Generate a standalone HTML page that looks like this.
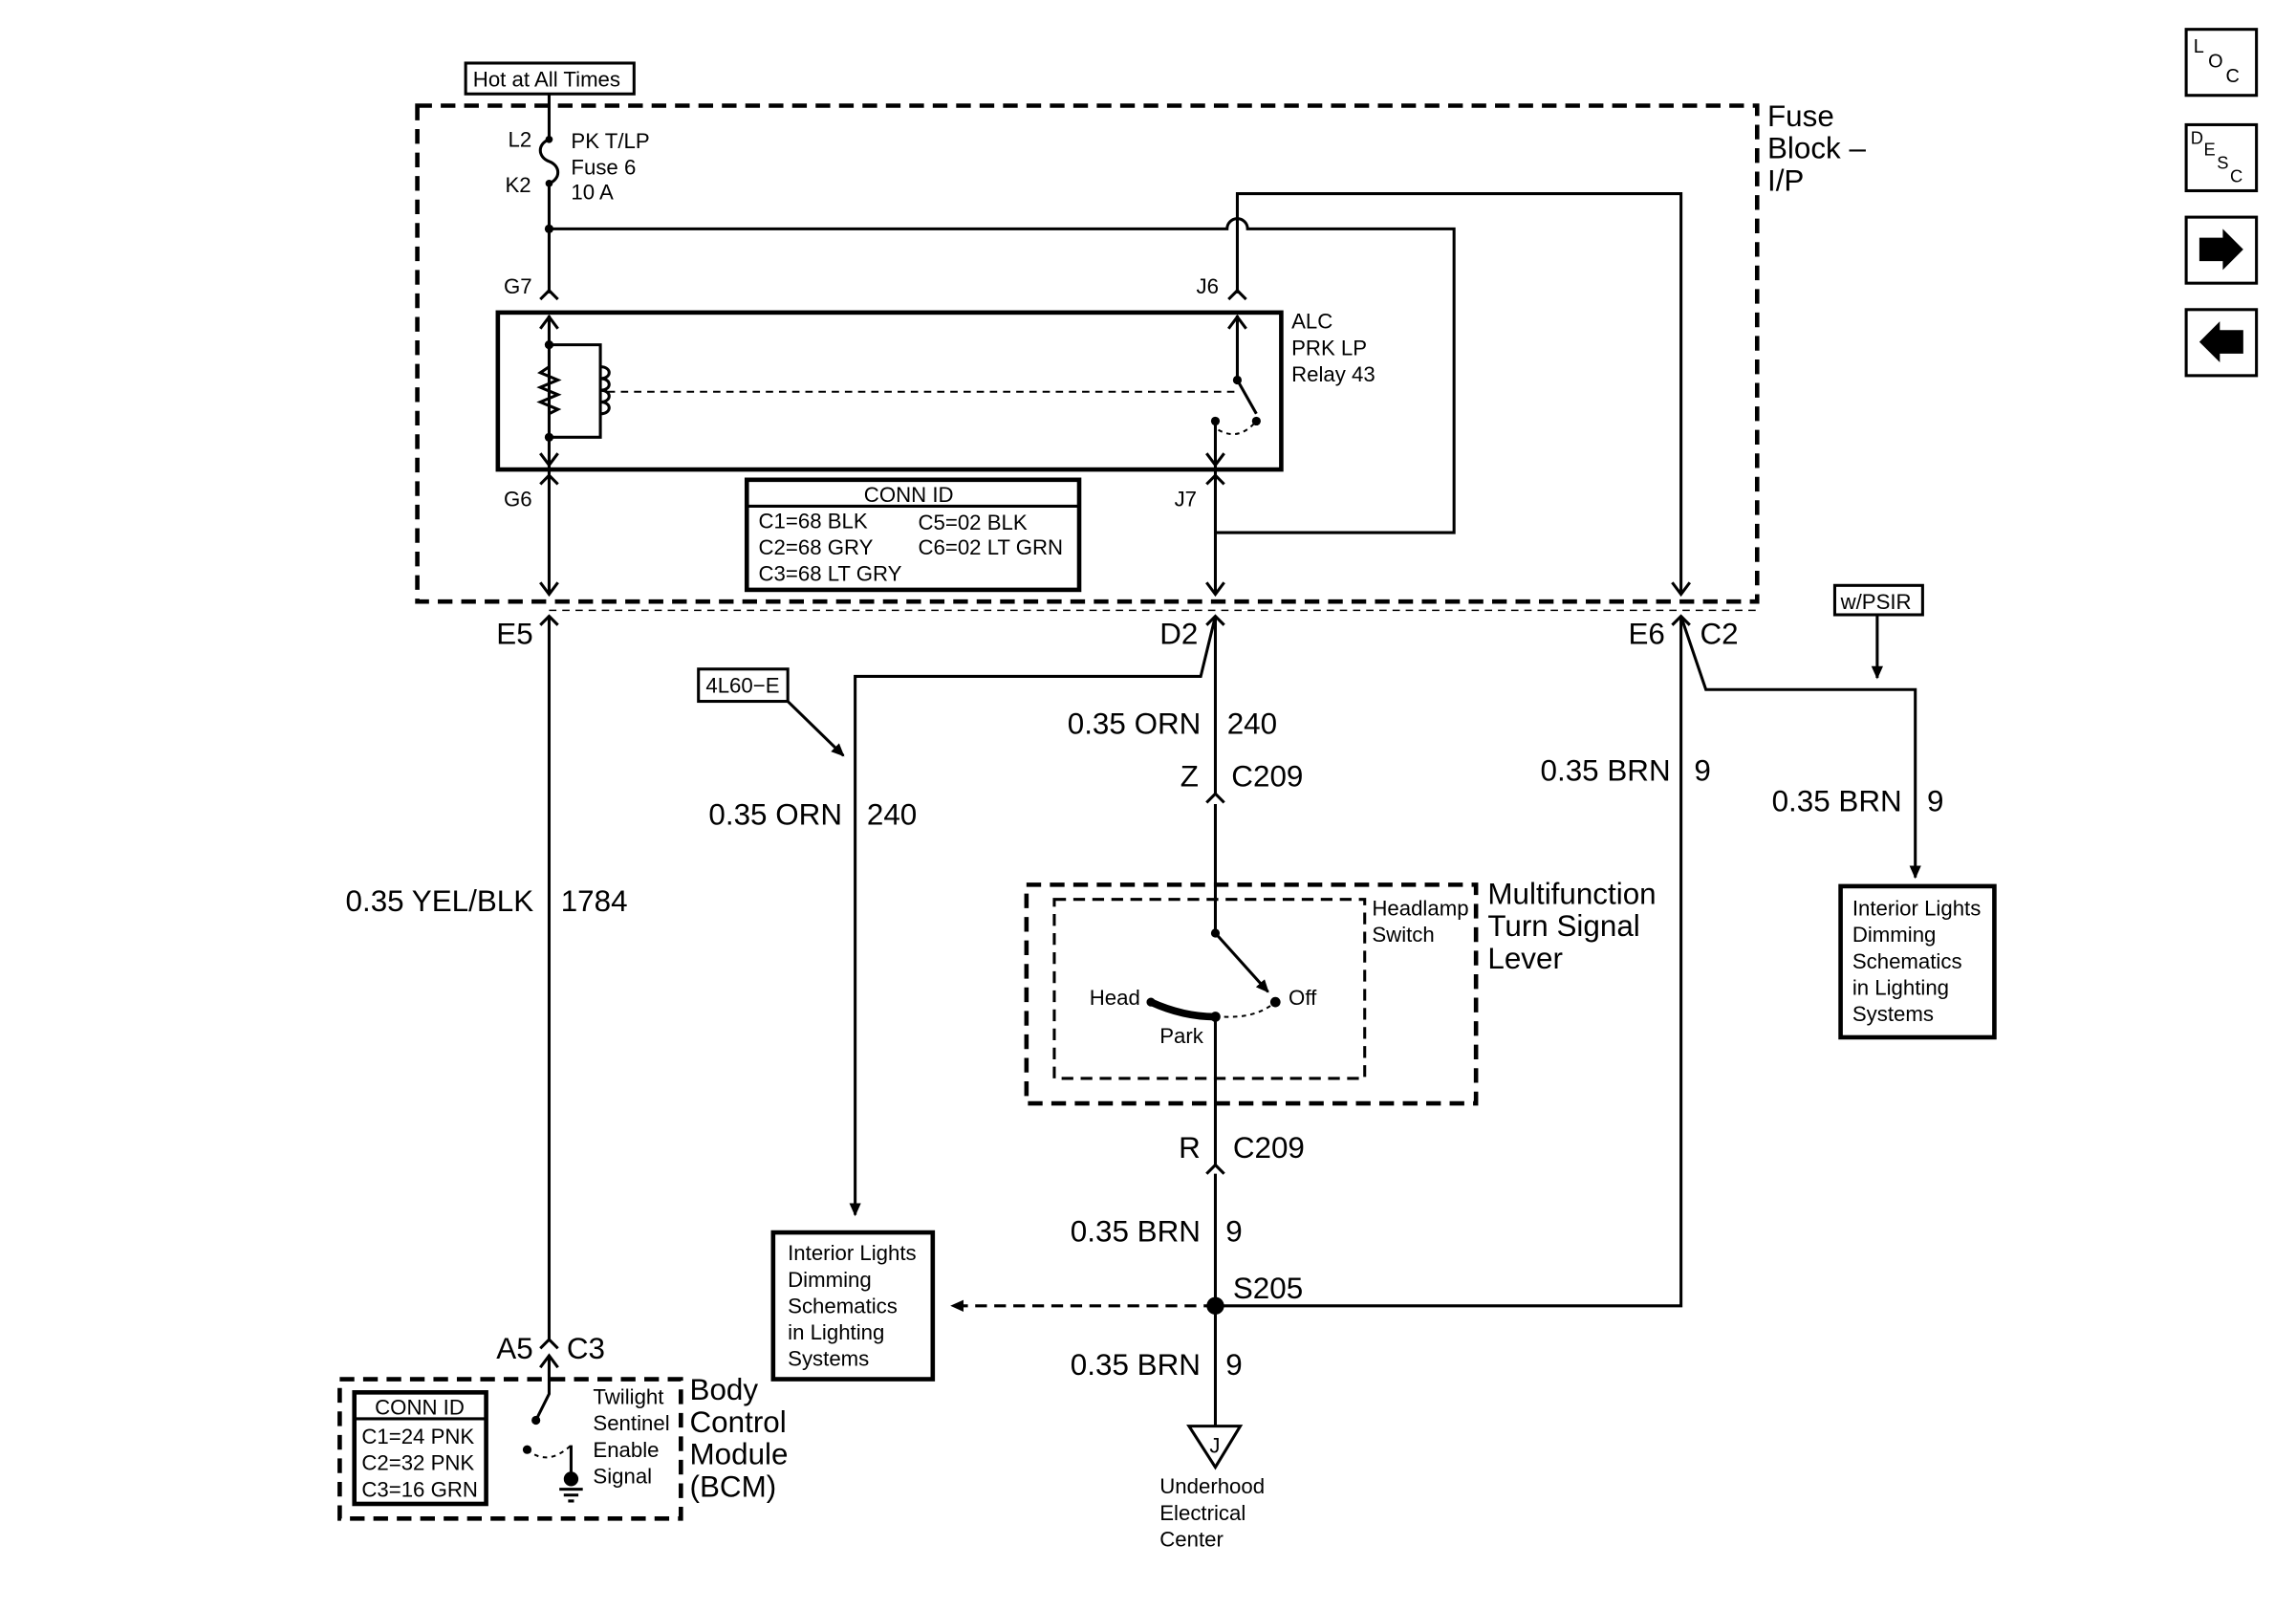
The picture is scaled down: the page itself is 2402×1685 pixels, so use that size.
<!DOCTYPE html>
<html><head><meta charset="utf-8"><style>
html,body{margin:0;padding:0;background:#fff}
svg{display:block}
text{font-family:"Liberation Sans",Arial,sans-serif;fill:#000}
.s{font-size:14.5px}.m{font-size:20.5px}.l{font-size:20.5px}
</style></head><body>
<svg width="2402" height="1685" viewBox="0 0 1568 1098" preserveAspectRatio="none" xmlns="http://www.w3.org/2000/svg">
<defs>
<marker id="ar" markerWidth="10" markerHeight="10" refX="8" refY="5" orient="auto" markerUnits="userSpaceOnUse"><path d="M0,1 L9,5 L0,9 z" fill="#000"/></marker>
</defs>
<g fill="none" stroke="#000" stroke-width="2">
<rect x="318" y="43" width="115" height="21"/>
<rect x="285" y="72" width="915" height="338" stroke-width="3" stroke-dasharray="10,6"/>
<path d="M375,64 V95 M375,125 V200"/>
<path d="M375,95 c-8,3 -8,12 0,15 c8,3 8,12 0,15"/>
<path d="M375,156 H838 a7,7 0 0 1 14,0 H993 V363 H830"/>
<path d="M845,200 V132 H1148 V405" />
<path d="M369,204 l6,-6 l6,6 M839,204 l6,-6 l6,6 M369,330 l6,-6 l6,6 M824,330 l6,-6 l6,6 M369,426 l6,-6 l6,6 M824,426 l6,-6 l6,6 M1142,426 l6,-6 l6,6 M824,547 l6,-6 l6,6 M824,800 l6,-6 l6,6 M369,919 l6,-6 l6,6"/>
<rect x="340" y="213" width="535" height="107" stroke-width="3"/>
<path d="M375,215 V320 M375,235 H410 V298 H375"/>
<path d="M375,250 l-6,4 l12,5 l-12,5 l12,5 l-12,5 l12,5 l-6,3" />
<path d="M410,250 c8,0 8,8 0,8 c8,0 8,8 0,8 c8,0 8,8 0,8 c8,0 8,8 0,8" />
<path d="M415,267 H843" stroke-dasharray="5,4" stroke-width="1.3"/>
<path d="M845,215 V259 L858,282"/>
<path d="M830,287 V320"/>
<path d="M832,293 q14,8 26,-6" stroke-dasharray="3,3" stroke-width="1.3"/>
<path d="M369,224 l6,-8 l6,8 M369,309 l6,8 l6,-8 M839,224 l6,-8 l6,8 M824,309 l6,8 l6,-8"/>
<path d="M375,320 V405 M830,320 V405"/>
<path d="M369,397 l6,8 l6,-8 M824,397 l6,8 l6,-8 M1142,397 l6,8 l6,-8"/>
<rect x="510" y="327" width="227" height="75" stroke-width="3"/>
<path d="M510,345 H737"/>
<path d="M375,416 H1200" stroke-dasharray="5,4" stroke-width="1"/>
<path d="M375,420 V913"/>
<path d="M830,420 V541 M830,420 L820,461 H584 V828" marker-end="url(#ar)"/>
<rect x="477" y="456" width="61" height="22"/>
<path d="M538,478 L576,515" marker-end="url(#ar)"/>
<rect x="528" y="840" width="109" height="100" stroke-width="3"/>
<path d="M830,548 V636"/>
<rect x="701" y="603" width="307" height="149" stroke-width="3" stroke-dasharray="10,6"/>
<rect x="720" y="613" width="212" height="122" stroke-width="2" stroke-dasharray="8,5"/>
<path d="M830,636 L866,676" marker-end="url(#ar)"/>
<path d="M786,683 Q808,693 830,693" stroke-width="5"/>
<path d="M836,693 Q858,694 871,683" stroke-dasharray="3,3" stroke-width="1.3"/>
<path d="M830,693 V794 M830,800 V972"/>
<path d="M830,890 H1148 V420"/>
<path d="M830,890 H650" stroke-dasharray="8,5" marker-end="url(#ar)"/>
<path d="M812,972 H847 L830,1000 Z"/>
<path d="M1148,420 L1165,470 H1308 V598" marker-end="url(#ar)"/>
<rect x="1253" y="399" width="60" height="20"/>
<path d="M1282,419 V462" marker-end="url(#ar)"/>
<rect x="1257" y="604" width="105" height="103" stroke-width="3"/>
<rect x="232" y="940" width="233" height="95" stroke-width="3" stroke-dasharray="10,6"/>
<rect x="242" y="949" width="90" height="76" stroke-width="3"/>
<path d="M242,967 H332"/>
<path d="M375,925 V950 L366,968 M369,932 l6,-8 l6,8"/>
<path d="M360,988 q14,12 30,-3" stroke-dasharray="3,3" stroke-width="1.3"/>
<path d="M390,985 V1008 M382,1015 H398 M385,1019 H395 M388,1023 H392"/>
<rect x="1493" y="20" width="48" height="45"/>
<rect x="1493" y="85" width="48" height="45"/>
<rect x="1493" y="148" width="48" height="45"/>
<rect x="1493" y="211" width="48" height="45"/>
</g>
<g fill="#000">
<circle cx="375" cy="95" r="2.5"/><circle cx="375" cy="125" r="2.5"/><circle cx="375" cy="156" r="3"/>
<circle cx="375" cy="235" r="3"/><circle cx="375" cy="298" r="3"/><circle cx="845" cy="259" r="3"/><circle cx="858" cy="287" r="3"/><circle cx="830" cy="287" r="3"/>
<circle cx="830" cy="636" r="3"/><circle cx="871" cy="683" r="3.5"/><circle cx="786" cy="683" r="3"/><circle cx="830" cy="693" r="3.5"/>
<circle cx="830" cy="890" r="6"/>
<circle cx="366" cy="968" r="3"/><circle cx="360" cy="988" r="3"/><circle cx="390" cy="1008" r="5"/>
<path d="M1502,162 h16 v-6 l14,14 l-14,14 v-6 h-16z"/>
<path d="M1532,225 h-16 v-6 l-14,14 l14,14 v-6 h16z"/>
</g>
<text x="323" y="59" class="s">Hot at All Times</text>
<text x="1207" y="86" class="l">Fuse</text><text x="1207" y="108" class="l">Block –</text><text x="1207" y="130" class="l">I/P</text>
<text x="347" y="100" class="s">L2</text><text x="345" y="131" class="s">K2</text>
<text x="390" y="101" class="s">PK T/LP</text><text x="390" y="119" class="s">Fuse 6</text><text x="390" y="136" class="s">10 A</text>
<text x="344" y="200" class="s">G7</text><text x="817" y="200" class="s">J6</text>
<text x="344" y="345" class="s">G6</text><text x="802" y="345" class="s">J7</text>
<text x="882" y="224" class="s">ALC</text><text x="882" y="242" class="s">PRK LP</text><text x="882" y="260" class="s">Relay 43</text>
<text x="590" y="342" class="s">CONN ID</text>
<text x="518" y="360" class="s">C1=68 BLK</text><text x="627" y="361" class="s">C5=02 BLK</text>
<text x="518" y="378" class="s">C2=68 GRY</text><text x="627" y="378" class="s">C6=02 LT GRN</text>
<text x="518" y="396" class="s">C3=68 LT GRY</text>
<text x="339" y="439" class="m">E5</text><text x="792" y="439" class="m">D2</text><text x="1112" y="439" class="m">E6</text><text x="1161" y="439" class="m">C2</text>
<text x="482" y="472" class="s">4L60−E</text>
<text x="729" y="500" class="m">0.35 ORN</text><text x="838" y="500" class="m">240</text>
<text x="806" y="536" class="m">Z</text><text x="841" y="536" class="m">C209</text>
<text x="484" y="562" class="m">0.35 ORN</text><text x="592" y="562" class="m">240</text>
<text x="1052" y="532" class="m">0.35 BRN</text><text x="1157" y="532" class="m">9</text>
<text x="1210" y="553" class="m">0.35 BRN</text><text x="1316" y="553" class="m">9</text>
<text x="1257" y="415" class="s">w/PSIR</text>
<text x="236" y="621" class="m">0.35 YEL/BLK</text><text x="383" y="621" class="m">1784</text>
<text x="1016" y="616" class="l">Multifunction</text><text x="1016" y="638" class="l">Turn Signal</text><text x="1016" y="660" class="l">Lever</text>
<text x="937" y="624" class="s">Headlamp</text><text x="937" y="642" class="s">Switch</text>
<text x="744" y="685" class="s">Head</text><text x="880" y="685" class="s">Off</text><text x="792" y="711" class="s">Park</text>
<text x="1265" y="624" class="s">Interior Lights</text><text x="1265" y="642" class="s">Dimming</text><text x="1265" y="660" class="s">Schematics</text><text x="1265" y="678" class="s">in Lighting</text><text x="1265" y="696" class="s">Systems</text>
<text x="805" y="789" class="m">R</text><text x="842" y="789" class="m">C209</text>
<text x="731" y="846" class="m">0.35 BRN</text><text x="837" y="846" class="m">9</text>
<text x="842" y="885" class="m">S205</text>
<text x="731" y="937" class="m">0.35 BRN</text><text x="837" y="937" class="m">9</text>
<text x="538" y="859" class="s">Interior Lights</text><text x="538" y="877" class="s">Dimming</text><text x="538" y="895" class="s">Schematics</text><text x="538" y="913" class="s">in Lighting</text><text x="538" y="931" class="s">Systems</text>
<text x="826" y="990" class="s">J</text>
<text x="792" y="1018" class="s">Underhood</text><text x="792" y="1036" class="s">Electrical</text><text x="792" y="1054" class="s">Center</text>
<text x="339" y="926" class="m">A5</text><text x="387" y="926" class="m">C3</text>
<text x="256" y="964" class="s">CONN ID</text>
<text x="247" y="984" class="s">C1=24 PNK</text><text x="247" y="1002" class="s">C2=32 PNK</text><text x="247" y="1020" class="s">C3=16 GRN</text>
<text x="405" y="957" class="s">Twilight</text><text x="405" y="975" class="s">Sentinel</text><text x="405" y="993" class="s">Enable</text><text x="405" y="1011" class="s">Signal</text>
<text x="471" y="954" class="l">Body</text><text x="471" y="976" class="l">Control</text><text x="471" y="998" class="l">Module</text><text x="471" y="1020" class="l">(BCM)</text>
<text x="1498" y="36" font-size="13">L</text><text x="1508" y="46" font-size="13">O</text><text x="1520" y="56" font-size="13">C</text>
<text x="1496" y="98" font-size="12">D</text><text x="1505" y="106" font-size="12">E</text><text x="1514" y="115" font-size="12">S</text><text x="1523" y="124" font-size="12">C</text>
</svg>
</body></html>
